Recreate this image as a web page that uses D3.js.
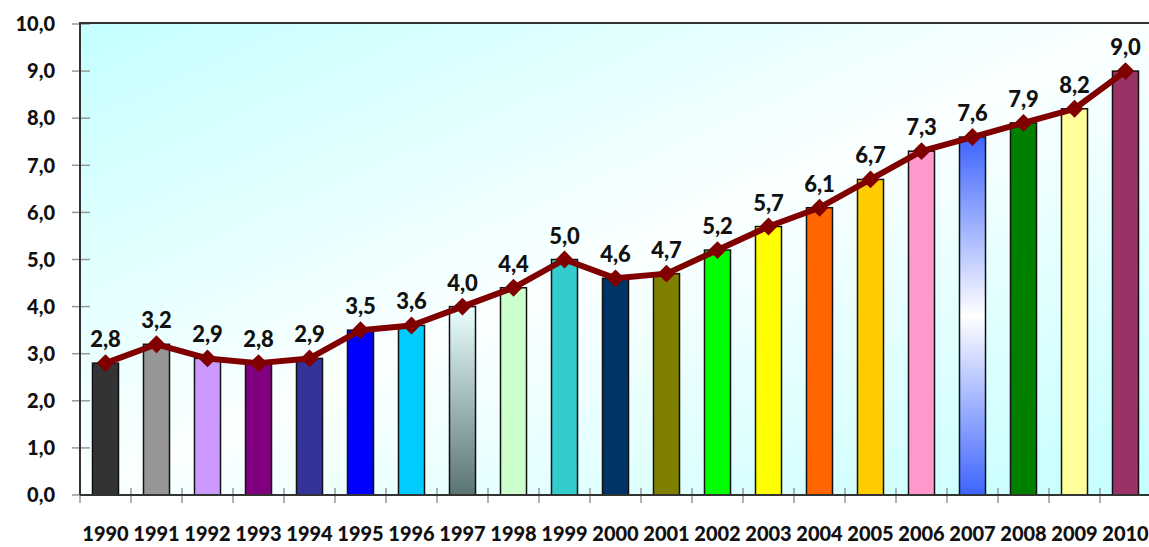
<!DOCTYPE html>
<html>
<head>
<meta charset="utf-8">
<script src="https://cdn.jsdelivr.net/npm/d3@7"></script>
<style>
  html, body { margin: 0; padding: 0; background: #ffffff; }
  svg { display: block; }
  text { font-family: Lato, "Open Sans", sans-serif; font-weight: 900; fill: #111; }
</style>
</head>
<body>
<svg id="chart" width="1149" height="547"></svg>
<script>
// ---- data ----
const years = ["1990","1991","1992","1993","1994","1995","1996","1997","1998","1999","2000",
               "2001","2002","2003","2004","2005","2006","2007","2008","2009","2010"];
const values = [2.8, 3.2, 2.9, 2.8, 2.9, 3.5, 3.6, 4.0, 4.4, 5.0, 4.6,
                4.7, 5.2, 5.7, 6.1, 6.7, 7.3, 7.6, 7.9, 8.2, 9.0];
const barColors = ["#333333","#969696","#cc99ff","#800080","#333399","#0000ff","#00ccff",
                   "url(#g1997)","#ccffcc","#33cccc","#003366","#808000","#00ff00","#ffff00",
                   "#ff6600","#ffcc00","#ff99cc","url(#g2007)","#008000","#ffff99","#993366"];
const yTicks = [0,1,2,3,4,5,6,7,8,9,10];

// ---- layout ----
const svg = d3.select("#chart");
const pL = 80, pR = 1151, pT = 24, pB = 495;

const x = d3.scaleBand().domain(years).range([pL, pR]).padding(0);
const y = d3.scaleLinear().domain([0, 10]).range([pB, pT]);
const fmt = v => d3.format(".1f")(v).replace(".", ",");
const barW = x.bandwidth() * 0.51;

// ---- gradients ----
const defs = svg.append("defs");
const bg = defs.append("linearGradient").attr("id", "bg")
  .attr("x1", 0).attr("y1", 0).attr("x2", 1).attr("y2", 1);
bg.append("stop").attr("offset", "0%").attr("stop-color", "#c4ffff");
bg.append("stop").attr("offset", "50%").attr("stop-color", "#fbffff");
bg.append("stop").attr("offset", "100%").attr("stop-color", "#c4ffff");

const g97 = defs.append("linearGradient").attr("id", "g1997")
  .attr("x1", 0).attr("y1", 0).attr("x2", 0).attr("y2", 1);
g97.append("stop").attr("offset", "0%").attr("stop-color", "#eaffff");
g97.append("stop").attr("offset", "100%").attr("stop-color", "#5a7373");

const g07 = defs.append("linearGradient").attr("id", "g2007")
  .attr("x1", 0).attr("y1", 0).attr("x2", 0).attr("y2", 1);
g07.append("stop").attr("offset", "0%").attr("stop-color", "#3d64ff");
g07.append("stop").attr("offset", "50%").attr("stop-color", "#ffffff");
g07.append("stop").attr("offset", "100%").attr("stop-color", "#3d64ff");

// ---- plot background ----
svg.append("rect")
  .attr("x", pL).attr("y", pT)
  .attr("width", pR - pL).attr("height", pB - pT)
  .attr("fill", "url(#bg)");

// ---- y ticks & labels ----
svg.append("g").selectAll("line").data(yTicks).join("line")
  .attr("x1", pL - 8).attr("x2", pL + 10)
  .attr("y1", d => y(d)).attr("y2", d => y(d))
  .attr("stroke", "#999").attr("stroke-width", 1.5);

svg.append("g").selectAll("text").data(yTicks).join("text")
  .attr("x", 55).attr("y", d => y(d))
  .attr("dy", "0.36em")
  .attr("text-anchor", "end")
  .style("font-size", "20px")
  .text(d => fmt(d));

// ---- x ticks ----
const xTickPos = years.map(d => x(d)).concat([pR]);
svg.append("g").selectAll("line").data(xTickPos).join("line")
  .attr("x1", d => d).attr("x2", d => d)
  .attr("y1", pB - 7).attr("y2", pB + 8)
  .attr("stroke", "#999").attr("stroke-width", 1.5);

// ---- bars ----
svg.append("g").selectAll("rect").data(years).join("rect")
  .attr("x", d => x(d) + (x.bandwidth() - barW) / 2)
  .attr("y", (d, i) => y(values[i]))
  .attr("width", barW)
  .attr("height", (d, i) => y(0) - y(values[i]))
  .attr("fill", (d, i) => barColors[i])
  .attr("stroke", "#111").attr("stroke-width", 1.5);

// ---- frame ----
svg.append("line").attr("x1", pL).attr("x2", pR).attr("y1", pT - 1).attr("y2", pT - 1)
  .attr("stroke", "#333").attr("stroke-width", 2);
svg.append("line").attr("x1", pL).attr("x2", pL).attr("y1", pT - 2).attr("y2", pB)
  .attr("stroke", "#333").attr("stroke-width", 2);
svg.append("line").attr("x1", pL).attr("x2", pR).attr("y1", pB).attr("y2", pB)
  .attr("stroke", "#333").attr("stroke-width", 2);

// ---- x labels ----
svg.append("g").selectAll("text").data(years).join("text")
  .attr("x", d => x(d) + x.bandwidth() / 2)
  .attr("y", 541)
  .attr("text-anchor", "middle")
  .style("font-size", "20px")
  .text(d => d);

// ---- line + markers ----
const cx = d => x(d) + x.bandwidth() / 2;
const line = d3.line().x(d => cx(d)).y((d, i) => y(values[i]));
svg.append("path").datum(years)
  .attr("d", line)
  .attr("fill", "none")
  .attr("stroke", "#800000").attr("stroke-width", 6)
  .attr("stroke-linejoin", "round");

const sym = d3.symbol(d3.symbolSquare, 160);
svg.append("g").selectAll("path").data(years).join("path")
  .attr("d", sym)
  .attr("transform", (d, i) => `translate(${cx(d)},${y(values[i])}) rotate(45)`)
  .attr("fill", "#800000");

// ---- value labels ----
svg.append("g").selectAll("text").data(years).join("text")
  .attr("x", d => cx(d))
  .attr("y", (d, i) => y(values[i]) - 16)
  .attr("text-anchor", "middle")
  .style("font-size", "22px")
  .text((d, i) => fmt(values[i]));
</script>
</body>
</html>
